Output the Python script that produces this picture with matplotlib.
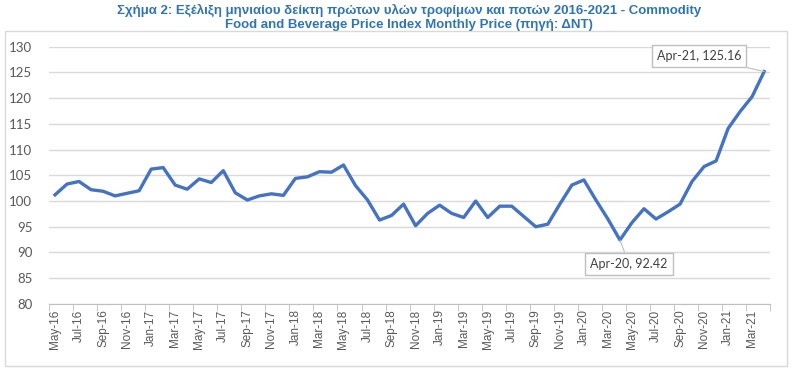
import numpy as np
import pandas as pd
import matplotlib.pyplot as plt
from matplotlib.patches import Rectangle

plt.rcParams['font.family'] = ['Liberation Sans', 'DejaVu Sans']

# μηνιαίος δείκτης, Μάιος 2016 - Απρίλιος 2021
months = pd.date_range('2016-05-01', periods=60, freq='MS').strftime('%b-%y').tolist()
index_values = [
    101.2, 103.3, 103.8, 102.2, 101.9, 101.0, 101.5, 102.0, 106.2, 106.5,
    103.1, 102.3, 104.3, 103.6, 105.9, 101.6, 100.2, 101.0, 101.4, 101.1,
    104.4, 104.7, 105.7, 105.6, 107.0, 103.0, 100.2, 96.3, 97.2, 99.4,
    95.2, 97.6, 99.2, 97.6, 96.8, 100.0, 96.8, 99.0, 99.0, 97.0,
    95.0, 95.5, 99.4, 103.1, 104.1, 100.2, 96.5, 92.42, 95.8, 98.5,
    96.5, 97.9, 99.4, 103.8, 106.7, 107.8, 114.1, 117.4, 120.3, 125.16,
]
yticks = list(range(80, 131, 5))

title = ('Σχήμα 2: Εξέλιξη μηνιαίου δείκτη πρώτων υλών τροφίμων και ποτών 2016-2021 - Commodity\n'
         'Food and Beverage Price Index Monthly Price (πηγή: ΔΝΤ)')

fig = plt.figure(figsize=(7.94, 3.72), dpi=100)
ax = fig.add_axes([0.0617, 0.183, 0.9083, 0.6915])

# πλαίσιο γραφήματος
fig.patches.append(Rectangle((0.0057, 0.015), 0.986, 0.903, transform=fig.transFigure,
                             fill=False, edgecolor='#D9D9D9', linewidth=1))

x = np.arange(len(index_values))
ax.plot(x, index_values, color='#4472C4', linewidth=2.4, solid_joinstyle='round', zorder=3)

ax.set_xlim(-0.5, len(index_values) - 0.5)
ax.set_ylim(80, 130)
ax.set_yticks(yticks)
ax.grid(axis='y', color='#D9D9D9', linewidth=1)
ax.set_axisbelow(True)

ax.set_xticks(x[::2])
ax.set_xticklabels(months[::2], rotation=90, fontsize=8.5, color='#595959')
ax.set_xticks(np.arange(-0.5, len(index_values), 2), minor=True)
ax.tick_params(axis='x', which='major', length=0, pad=4)
ax.tick_params(axis='x', which='minor', length=5, color='#BFBFBF')
ax.tick_params(axis='y', length=0, labelsize=9.5, labelcolor='#595959', pad=12)
for lbl in ax.get_yticklabels():
    lbl.set_family(['Lato', 'DejaVu Sans'])

for side in ['top', 'right', 'left']:
    ax.spines[side].set_visible(False)
ax.spines['bottom'].set_color('#BFBFBF')

bbox = dict(boxstyle='square,pad=0.4', facecolor='white', edgecolor='#BFBFBF', linewidth=1)
i_max = len(index_values) - 1
ax.annotate(f'{months[i_max]}, {index_values[i_max]:.2f}', xy=(i_max, index_values[i_max]),
            xytext=(-47, 11), textcoords='offset points', ha='center', va='center',
            fontsize=9, color='#404040', family=['Lato', 'DejaVu Sans'], bbox=bbox,
            arrowprops=dict(arrowstyle='-', color='#BFBFBF', linewidth=0.8, shrinkA=0, shrinkB=0))
i_min = int(np.argmin(index_values))
ax.annotate(f'{months[i_min]}, {index_values[i_min]:.2f}', xy=(i_min, index_values[i_min]),
            xytext=(6.5, -17), textcoords='offset points', ha='center', va='center',
            fontsize=9, color='#404040', family=['Lato', 'DejaVu Sans'], bbox=bbox,
            arrowprops=dict(arrowstyle='-', color='#BFBFBF', linewidth=0.8, shrinkA=0, shrinkB=0))

fig.text(0.515, 0.99, title, ha='center', va='top', fontsize=9.5, fontweight='bold',
         color='#2E75B6', linespacing=1.2)

fig.savefig('out.png', dpi=100)
